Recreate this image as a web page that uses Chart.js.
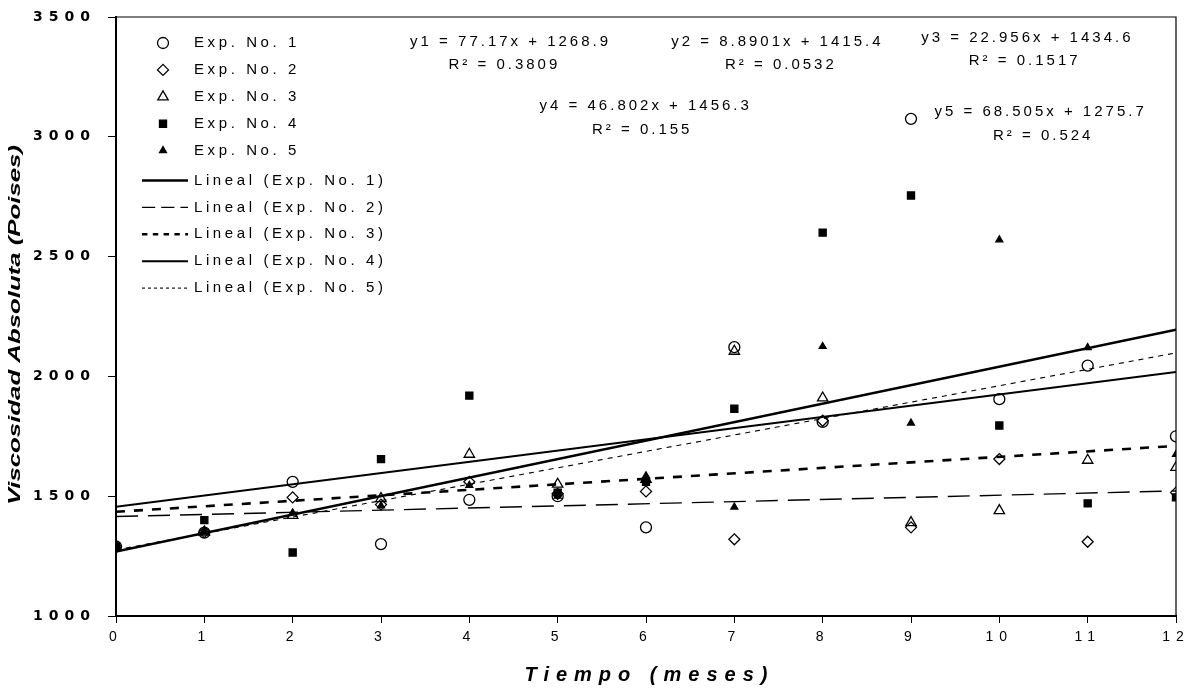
<!DOCTYPE html>
<html>
<head>
<meta charset="utf-8">
<script src="https://cdn.jsdelivr.net/npm/chart.js@4.4.1/dist/chart.umd.min.js"></script>
<style>
  html, body { margin: 0; padding: 0; background: #fff; }
  #chart-wrap { width: 1194px; height: 691px; }
</style>
</head>
<body>
<div id="chart-wrap"><canvas id="visc-chart" width="1194" height="691"></canvas></div>
<script>
// Months (x axis) and tick values
const months = [0, 1, 2, 3, 4, 5, 6, 7, 8, 9, 10, 11, 12];
const yTicks = [1000, 1500, 2000, 2500, 3000, 3500];

const exp1 = [1290, 1348, 1560, 1300, 1485, 1500, 1370, 2122, 1810, 3075, 1905, 2045, 1750];
const exp2 = [1290, 1350, 1495, 1465, 1560, 1510, 1520, 1320, 1815, 1370, 1655, 1310, 1515];
const exp3 = [1290, 1350, 1420, 1490, 1675, 1550, 1570, 2105, 1910, 1390, 1440, 1650, 1620];
const exp4 = [1290, 1400, 1265, 1655, 1920, 1515, 1560, 1865, 2600, 2755, 1795, 1470, 1495];
const exp5 = [1290, 1350, 1430, 1460, 1545, 1500, 1585, 1455, 2125, 1805, 2570, 2120, 1675];
const expNames = ['Exp. No. 1', 'Exp. No. 2', 'Exp. No. 3', 'Exp. No. 4', 'Exp. No. 5'];

// Linear trend lines: value at month 0 and at month 12
const trendNames = ['Lineal (Exp. No. 1)', 'Lineal (Exp. No. 2)', 'Lineal (Exp. No. 3)', 'Lineal (Exp. No. 4)', 'Lineal (Exp. No. 5)'];
const trendStart = [1269, 1415, 1435, 1456, 1276];
const trendEnd = [2195, 1522, 1710, 2018, 2098];

// Equation labels
const eqLabels = ['y1 = 77.17x + 1268.9', 'y2 = 8.8901x + 1415.4', 'y3 = 22.956x + 1434.6', 'y4 = 46.802x + 1456.3', 'y5 = 68.505x + 1275.7'];
const r2Labels = ['R² = 0.3809', 'R² = 0.0532', 'R² = 0.1517', 'R² = 0.155', 'R² = 0.524'];

const expSeries = [exp1, exp2, exp3, exp4, exp5];

// marker look per experiment
const markers = [
    { style: 'circle', radius: 5.5, fill: 'rgba(255,255,255,0)' },
    { style: 'rectRot', radius: 5.5, fill: 'rgba(255,255,255,0)' },
    { style: 'triangle', radius: 6, fill: 'rgba(255,255,255,0)' },
    { style: 'rect', radius: 5, fill: '#000' },
    { style: 'triangle', radius: 4, fill: '#000' }
];
// trend line look
const trendLook = [
    { width: 2.6, dash: [] },
    { width: 1.4, dash: [22, 10] },
    { width: 2.6, dash: [9, 9] },
    { width: 2, dash: [] },
    { width: 1.1, dash: [5, 5] }
];
// where the equation boxes sit (data units: month, poises)
const eqPos = [[4.45, 3396], [7.47, 3396], [10.3, 3412], [5.98, 3129], [10.45, 3104]];
const r2Pos = [[4.38, 3300], [7.51, 3300], [10.27, 3316], [5.94, 3028], [10.48, 3003]];

const FONT = '"Liberation Sans", Arial, sans-serif';

// Build datasets
const datasets = [];
expSeries.forEach((vals, i) => {
    datasets.push({
        label: expNames[i],
        data: months.map((m, k) => ({ x: m, y: vals[k] })),
        showLine: false,
        pointStyle: markers[i].style,
        pointRadius: markers[i].radius,
        pointBackgroundColor: markers[i].fill,
        pointBorderColor: '#000',
        pointBorderWidth: 1.3,
        order: 1
    });
});
trendNames.forEach((name, i) => {
    datasets.push({
        label: name,
        data: [{ x: months[0], y: trendStart[i] }, { x: months[months.length - 1], y: trendEnd[i] }],
        showLine: true,
        pointRadius: 0,
        borderColor: '#000',
        borderWidth: trendLook[i].width,
        borderDash: trendLook[i].dash,
        fill: false,
        order: 2
    });
});

function drawMarker(ctx, m, x, y) {
    ctx.save();
    ctx.fillStyle = m.fill;
    ctx.strokeStyle = '#000';
    ctx.lineWidth = 1.3;
    ctx.setLineDash([]);
    Chart.helpers.drawPoint(ctx, { pointStyle: m.style, radius: m.radius, borderWidth: 1.3, rotation: 0 }, x, y);
    ctx.restore();
}

// Frame, legend, equations and axis titles
const extrasPlugin = {
    id: 'extras',
    beforeDraw(chart) {
        chart.ctx.letterSpacing = '6px';
    },
    afterDraw(chart) {
        const ctx = chart.ctx;
        const area = chart.chartArea;
        const xs = chart.scales.x, ys = chart.scales.y;
        ctx.save();
        ctx.letterSpacing = '0px';

        // top and right border of the plot
        ctx.strokeStyle = '#000';
        ctx.lineWidth = 1.2;
        ctx.beginPath();
        ctx.moveTo(area.left, area.top);
        ctx.lineTo(area.right, area.top);
        ctx.lineTo(area.right, area.bottom);
        ctx.stroke();

        // legend
        ctx.fillStyle = '#000';
        ctx.font = '15px ' + FONT;
        ctx.letterSpacing = '3.6px';
        ctx.textBaseline = 'middle';
        ctx.textAlign = 'left';
        const rowY = i => area.top + 26 + i * 26.9;
        expNames.forEach((n, i) => {
            drawMarker(ctx, markers[i], area.left + 47, rowY(i));
            ctx.fillText(n, area.left + 78, rowY(i));
        });
        trendNames.forEach((n, i) => {
            const y = rowY(5 + i) + 3;
            ctx.save();
            ctx.lineWidth = trendLook[i].width;
            ctx.setLineDash(trendLook[i].dash.map(d => d * 0.6));
            ctx.beginPath();
            ctx.moveTo(area.left + 26, y);
            ctx.lineTo(area.left + 72, y);
            ctx.stroke();
            ctx.restore();
            ctx.fillText(n, area.left + 78, y);
        });

        // trend equations
        ctx.textAlign = 'center';
        ctx.letterSpacing = '3px';
        eqLabels.forEach((t, i) => {
            ctx.fillText(t, xs.getPixelForValue(eqPos[i][0]) + 1.5, ys.getPixelForValue(eqPos[i][1]));
            ctx.fillText(r2Labels[i], xs.getPixelForValue(r2Pos[i][0]) + 1.5, ys.getPixelForValue(r2Pos[i][1]));
        });

        // x axis title
        ctx.font = 'italic bold 20px ' + FONT;
        ctx.letterSpacing = '7px';
        ctx.textBaseline = 'alphabetic';
        ctx.fillText('Tiempo (meses)', (area.left + area.right) / 2 + 3.5, 681);

        // y axis title (stretched along its length to match)
        ctx.letterSpacing = '0px';
        ctx.font = 'italic bold 17px ' + FONT;
        const title = 'Viscosidad Absoluta (Poises)';
        const w = ctx.measureText(title).width;
        ctx.translate(15, 325);
        ctx.rotate(-Math.PI / 2);
        ctx.scale(360 / w, 1);
        ctx.textBaseline = 'middle';
        ctx.fillText(title, 0, 0);
        ctx.restore();
    }
};

const ctx = document.getElementById('visc-chart').getContext('2d');
const chart = new Chart(ctx, {
    type: 'scatter',
    data: { datasets: datasets },
    options: {
        responsive: false,
        animation: false,
        layout: { padding: { left: 0, top: 17, right: 18, bottom: 0 } },
        plugins: { legend: { display: false }, tooltip: { enabled: false } },
        scales: {
            x: {
                type: 'linear',
                min: 0,
                max: 12,
                afterBuildTicks: s => { s.ticks = months.map(v => ({ value: v })); },
                afterFit: s => { s.height = 75; s.paddingLeft = 0; s.paddingRight = 0; },
                grid: { drawOnChartArea: false, drawTicks: true, tickLength: 7, color: '#000', lineWidth: 1 },
                border: { color: '#000', width: 2 },
                ticks: {
                    color: '#000', font: { family: FONT, size: 14 }, padding: 6, maxRotation: 0, autoSkip: false,
                    callback: v => String(v)
                }
            },
            y: {
                type: 'linear',
                min: 1000,
                max: 3500,
                afterBuildTicks: s => { s.ticks = yTicks.map(v => ({ value: v })); },
                afterFit: s => { s.width = 116; s.paddingTop = 0; s.paddingBottom = 0; },
                grid: { drawOnChartArea: false, drawTicks: true, tickLength: 8, color: '#000', lineWidth: 1 },
                border: { color: '#000', width: 2 },
                ticks: {
                    color: '#000', font: { family: '"DejaVu Sans", sans-serif', size: 14, weight: 'bold' }, padding: 12,
                    callback: v => String(v)
                }
            }
        }
    },
    plugins: [extrasPlugin]
});
</script>
</body>
</html>
